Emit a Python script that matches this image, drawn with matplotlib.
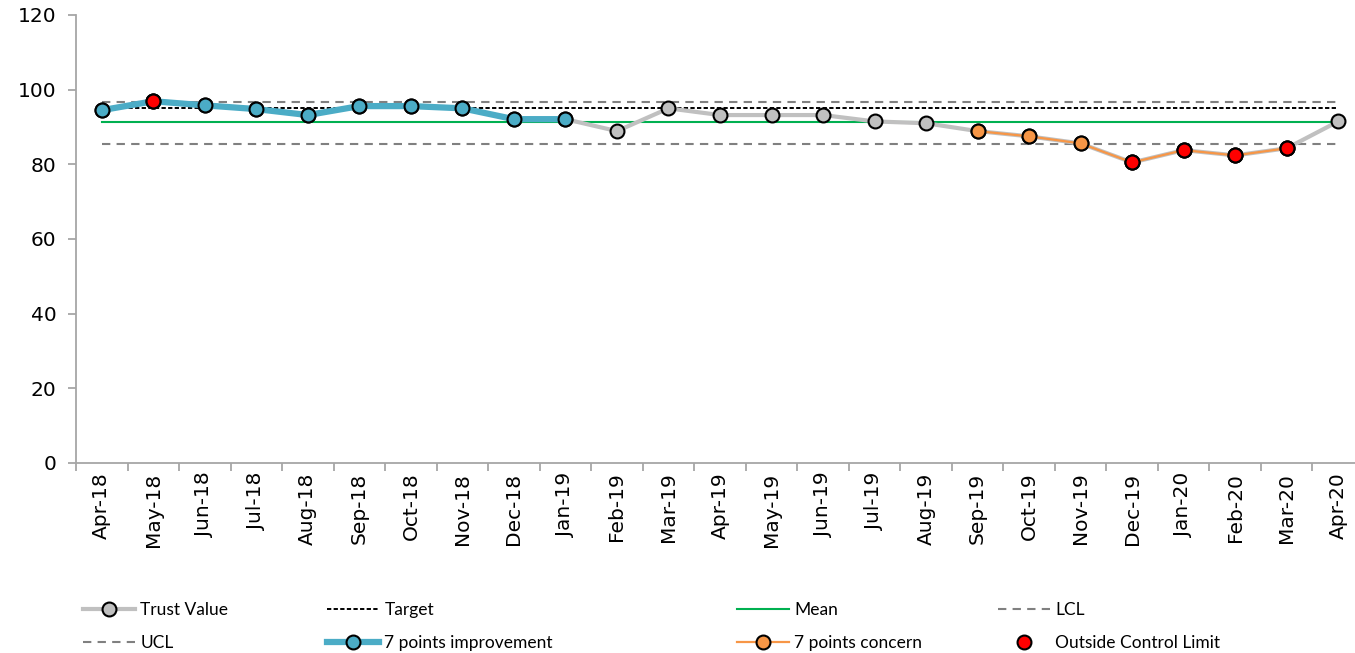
import numpy as np
import matplotlib
matplotlib.use("Agg")
import matplotlib.pyplot as plt

plt.rcParams["font.family"] = ["DejaVu Sans"]

months = ["Apr-18", "May-18", "Jun-18", "Jul-18", "Aug-18", "Sep-18", "Oct-18",
          "Nov-18", "Dec-18", "Jan-19", "Feb-19", "Mar-19", "Apr-19", "May-19",
          "Jun-19", "Jul-19", "Aug-19", "Sep-19", "Oct-19", "Nov-19", "Dec-19",
          "Jan-20", "Feb-20", "Mar-20", "Apr-20"]
trust_value = [94.5, 96.9, 95.8, 94.8, 93.2, 95.6, 95.6, 95.0, 92.1, 92.1, 88.9,
               95.0, 93.2, 93.2, 93.2, 91.5, 91.0, 88.9, 87.5, 85.6, 80.5, 83.8,
               82.4, 84.3, 91.5]
target = 95.0
mean = 91.3
ucl = 96.6
lcl = 85.4

# run / shift flags per month
improvement_idx = list(range(0, 10))
concern_idx = list(range(17, 24))
outside_idx = [1, 20, 21, 22, 23]

x = np.arange(len(months))
vals = np.array(trust_value)


def masked(idx):
    out = np.full(len(vals), np.nan)
    out[idx] = vals[idx]
    return out


gray = "#C0C0C0"
blue = "#4BACC6"
orange = "#F79646"
red = "#FF0000"
green = "#00B050"

W, H = 1355, 653
fig = plt.figure(figsize=(W / 100, H / 100), dpi=100)
ax = fig.add_axes([76 / W, 1 - 463 / H, (1364 - 76) / W, (463 - 15) / H])

ms = 10
tv, = ax.plot(x, vals, color=gray, lw=3, marker="o", ms=ms, mfc=gray,
              mec="black", mew=1.5, zorder=3)
tg, = ax.plot(x, [target] * len(x), color="black", lw=1.4, ls=(0, (2.2, 1.2)), zorder=2)
mn, = ax.plot(x, [mean] * len(x), color=green, lw=1.5, zorder=2)
lc, = ax.plot(x, [lcl] * len(x), color="#808080", lw=1.5, ls=(0, (4, 3)), zorder=2)
uc, = ax.plot(x, [ucl] * len(x), color="#808080", lw=1.5, ls=(0, (4, 3)), zorder=2)
imp, = ax.plot(x, masked(improvement_idx), color=blue, lw=4.5, marker="o", ms=ms,
               mfc=blue, mec="black", mew=1.5, zorder=4)
con, = ax.plot(x, masked(concern_idx), color=orange, lw=1.6, marker="o", ms=ms,
               mfc=orange, mec="black", mew=1.5, zorder=4)
out, = ax.plot(x, masked(outside_idx), ls="none", marker="o", ms=ms,
               mfc=red, mec="black", mew=1.5, zorder=5)

ax.set_xlim(-0.5, len(x) - 0.5)
ax.set_ylim(0, 120)
ax.set_yticks(range(0, 121, 20))
ax.set_xticks(x)
ax.set_xticklabels(months, rotation=90)
ax.set_xticks(np.arange(-0.5, len(x), 1), minor=True)
ax.tick_params(axis="x", which="major", length=0, pad=7, labelsize=14.5)
ax.tick_params(axis="x", which="minor", length=6, color="#A6A6A6", width=1.3)
ax.tick_params(axis="y", length=6, color="#A6A6A6", width=1.3, pad=8, labelsize=14.5)
for s in ["top", "right"]:
    ax.spines[s].set_visible(False)
for s in ["left", "bottom"]:
    ax.spines[s].set_color("#A6A6A6")
    ax.spines[s].set_linewidth(1.3)

# legend built as four columns so each can sit where it belongs
columns = [([tv, uc], ["Trust Value", "UCL"], 83),
           ([tg, imp], ["Target", "7 points improvement"], 327),
           ([mn, con], ["Mean", "7 points concern"], 737),
           ([lc, out], ["LCL", "Outside Control Limit"], 998)]
for handles, labels, px in columns:
    leg = fig.legend(handles, labels, loc="center left",
                     bbox_to_anchor=(px / W, 1 - 626.5 / H), frameon=False,
                     borderpad=0, borderaxespad=0, handlelength=3.0,
                     handletextpad=0.3, labelspacing=0.95,
                     prop={"family": "Lato", "size": 12.5})

fig.savefig("out.png", dpi=100)
